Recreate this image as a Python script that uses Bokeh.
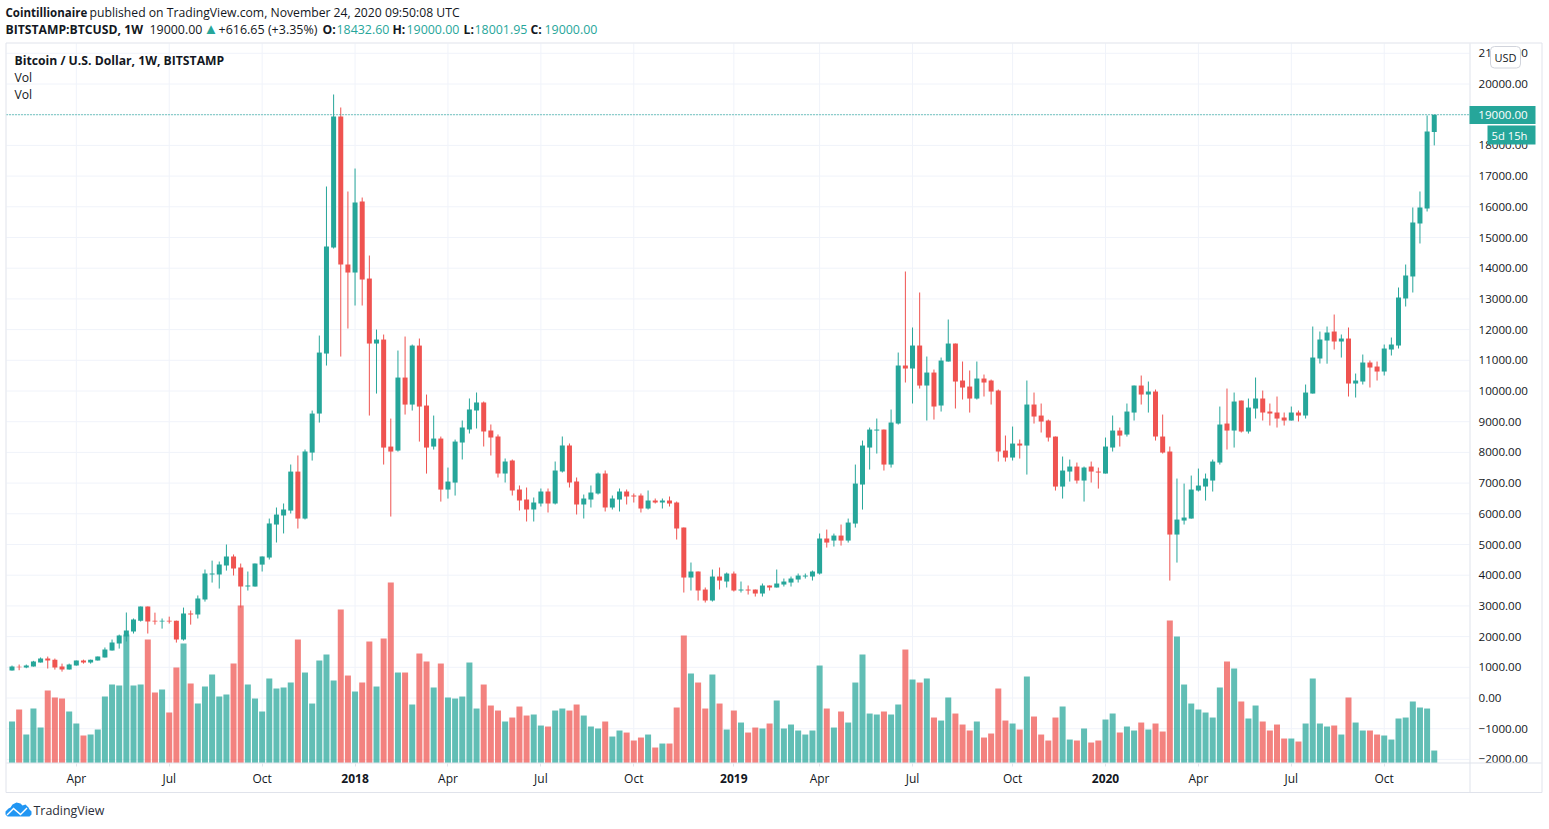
from bokeh.plotting import figure
from bokeh.models import (Range1d, FixedTicker, Label, BoxAnnotation, PolyAnnotation,
                          ColumnDataSource)
from bokeh.embed import file_html
from bokeh.resources import INLINE

opens = [894,1020,990,1024,1155,1285,1250,1025,925,1055,
1220,1155,1220,1320,1545,1775,2000,2165,2520,2980,
2520,2490,2520,2520,1905,2750,2720,3205,4020,4020,
4315,4610,4250,3630,3630,4345,4575,5650,5945,6105,
7375,5845,7994,9265,11220,14673,18941,14120,13859,16172,
13663,11546,11676,8190,8060,10438,9558,11480,9526,8190,
8451,6789,7017,8322,8746,9365,9626,8713,8518,7312,
7736,6791,6465,6140,6335,6726,6335,7378,8225,7052,
6303,6465,6661,7312,6205,6465,6726,6596,6596,6172,
6433,6368,6433,6368,5553,3924,4120,3533,3175,3957,
3794,4054,3501,3533,3533,3403,3664,3599,3696,3761,
3859,3957,3957,4054,5195,5128,5291,5128,5682,6953,
8158,8712,8744,7604,8940,10830,10732,11481,10178,10601,
9527,10960,11546,10341,10145,9754,10406,10341,10015,8060,
7832,8288,8223,9559,9200,9038,8516,6887,7376,7539,
7083,7539,7376,7311,8158,8712,8581,9298,10178,9885,
9983,8517,8028,5324,5780,5845,6758,6888,7083,7670,
8940,8712,9689,8680,9429,9755,9331,9299,9136,9038,
9299,9201,9917,11058,11644,11937,11612,11709,10243,10308,
10928,10797,10634,11351,11481,13013,13730,15456,15945,18432.6]
closes = [1024,1005,1055,1187,1285,1220,990,925,1090,1220,
1155,1250,1350,1580,1805,2035,2200,2555,2980,2490,
2490,2520,2490,1905,2750,2720,3240,4055,4055,4345,
4610,4220,3630,3665,4380,4610,5685,5975,6140,7375,
5845,8030,9265,11252,14706,18941,14120,13859,16140,13631,
11546,11676,8157,8027,10438,9558,11480,9493,8157,8451,
6789,7050,8353,8811,9398,9626,8681,8485,7312,7703,
6759,6433,6140,6368,6726,6335,7410,8225,7019,6303,
6498,6693,7312,6205,6498,6726,6563,6563,6172,6433,
6368,6433,6335,5521,3924,4120,3501,3175,3957,3826,
4054,3501,3533,3501,3403,3664,3599,3729,3794,3892,
3989,3989,4120,5195,5063,5291,5128,5715,6985,8223,
8744,8744,7604,8973,10830,10732,11481,10178,10601,9494,
10992,11546,10308,10113,9754,10406,10276,9982,8028,7832,
8288,8223,9559,9168,9005,8484,6887,7409,7539,7083,
7507,7376,7344,8191,8712,8549,9331,10178,9885,9983,
8517,7995,5324,5812,5878,6790,6920,7148,7702,8908,
8712,9657,8680,9461,9755,9299,9266,9103,9038,9299,
9201,9950,11090,11677,11905,11612,11709,10243,10341,10928,
10765,10634,11384,11514,13045,13762,15489,15978,18453,19000]
highs = [1057,1090,1090,1210,1320,1350,1285,1120,1120,1220,
1250,1250,1350,1645,1905,2065,2785,2590,2980,2980,
2780,2590,2650,2520,2945,2850,3340,4185,4475,4445,
5000,4675,4380,4120,4380,4610,5845,6205,6335,7605,
7900,8095,9363,11806,16661,19658,19235,16498,17247,16302,
14413,12002,11839,9102,11318,11774,11513,11709,9884,9200,
8516,7506,8418,9039,9756,9951,9658,8909,8583,7801,
7769,6922,6856,6531,6824,6824,7703,8518,8290,7182,
6628,6922,7345,7410,6596,6824,6791,6661,6661,6759,
6498,6498,6563,6400,5553,4413,4120,3599,4185,4250,
4087,4120,3794,3664,3533,3729,3664,4185,3892,3957,
4054,4054,4152,5358,5487,5356,5650,5845,7604,8386,
8810,9103,8744,9396,11253,13892,12068,13208,11123,10699,
11090,12328,11546,10960,10667,10960,10536,10373,10048,8549,
8842,8419,10341,9950,9592,9070,8516,7865,7767,7669,
7539,7702,7506,8484,9201,8810,9592,10178,10504,10308,
10048,9233,8191,7148,6985,7246,7474,7311,7767,9494,
10080,9950,9689,9755,10439,10015,9592,9820,9299,9494,
9364,10211,12100,11937,12100,12491,11840,12068,10569,11188,
10993,10960,11514,11742,13371,14120,15978,16499,18974,19000]
lows = [894,905,970,1024,1155,960,925,860,925,1055,
1120,1120,1220,1320,1545,1610,1840,2100,2490,2100,
2390,2260,2425,1805,1870,2390,2590,3140,3760,3565,
4150,3990,2945,3500,3630,4120,4510,5065,5360,6010,
5520,5815,7734,8972,10829,14641,11122,12035,12784,12784,
9200,9917,7604,5910,8027,9233,9363,8353,7310,8092,
6398,6496,6594,7769,8616,8779,8192,7899,7182,7019,
6596,6107,5749,5749,6237,6042,6303,7345,6856,5977,
5846,6205,6628,6075,6140,6075,6303,6368,6042,6140,
6335,6172,6237,5162,3435,3501,3175,3110,3142,3533,
3599,3468,3436,3370,3305,3305,3501,3599,3631,3631,
3761,3892,3826,4022,4900,4933,4965,5063,5552,6138,
7441,7963,7409,7506,8907,10276,9592,10080,9038,9070,
9331,10960,9429,9722,9298,9722,9820,9559,7702,7702,
7735,7800,7278,8940,8647,8354,6757,6496,7050,6985,
6399,7018,6822,7311,8028,8191,8516,9038,9559,9298,
8386,7963,3825,4411,5650,5845,6725,6432,6725,7604,
8093,8158,8647,8614,9103,9038,8875,8810,8875,9038,
9005,9103,9917,10895,10890,11351,11090,9820,9787,10211,
10113,10341,10504,11156,11384,12752,13208,14805,15847,18000]
volumes = [-766,-375,-1190,-343,-962,244,16,-17,-440,-831,
-1222,-1190,-1027,48,439,407,2068,407,439,1905,
179,276,-473,993,1775,472,-180,374,765,48,
113,1123,3013,439,-17,-440,635,309,342,505,
1905,830,-180,1221,1417,570,2883,732,211,505,
1840,374,1938,3762,830,830,-212,1449,1189,342,
1123,16,-17,48,1156,-343,439,-245,-408,-766,
-636,-278,-571,-538,-897,-929,-408,-343,-408,-212,
-571,-929,-994,-766,-1255,-1059,-1125,-1385,-1288,-1190,
-1613,-1483,-1483,-310,2036,798,504,-343,765,-180,
-1027,-408,-799,-1125,-962,-994,-831,-82,-994,-864,
-1059,-1190,-1059,1058,-343,-962,-440,-799,504,1417,
-506,-538,-440,-538,-212,1579,602,504,635,-636,
-734,16,-506,-864,-1059,-766,-1288,-1157,309,-734,
-831,-1027,700,-603,-1190,-1385,-636,-277,-1353,-1385,
-994,-1450,-1385,-701,-505,-1124,-929,-1059,-799,-1027,
-831,-1092,2525,2003,439,-180,-375,-473,-636,342,
1189,961,-114,-668,-245,-766,-1059,-864,-1320,-1320,
-1418,-831,635,-831,-929,-896,-1190,16,-799,-1059,
-1059,-1190,-1222,-1353,-668,-636,-114,-310,-343,-1711]
assert all(len(a) == 200 for a in (opens, closes, highs, lows, volumes))

month_ticks = {9: "Apr", 22: "Jul", 35: "Oct", 61: "Apr", 74: "Jul", 87: "Oct",
               113: "Apr", 126: "Jul", 140: "Oct", 166: "Apr", 179: "Jul", 192: "Oct"}
year_ticks = {48: "2018", 101: "2019", 153: "2020"}
price_ticks = list(range(-2000, 22000, 1000))
last_price = 19000

UP, DOWN = "#26a69a", "#ef5350"
GRID, BORDER = "#f0f3fa", "#e0e3eb"
FONT = "Open Sans"
TXT = "#131722"

W, H = 1545, 825
L, R, T, B = 7, 1470, 44, 763.5          # plot area on the canvas, px
BAR = 7.147; X0 = 12.5                    # spacing and first bar centre, px
PY = 0.0307; Y0 = 698.5                   # px per price unit and zero line, px
xd = lambda px: (px - X0) / BAR
yd = lambda py: (Y0 - py) / PY

# the frame fills the canvas so that annotations outside the plot area are not clipped
p = figure(width=W, height=H, output_backend="svg", toolbar_location=None,
           x_range=Range1d(xd(1), xd(W + 1)), y_range=Range1d(yd(H + 1), yd(1)),
           y_axis_location="right", min_border=0)
p.outline_line_color = None
p.background_fill_color = "white"
p.grid.visible = False

all_x = sorted(list(month_ticks) + list(year_ticks))
p.xaxis.fixed_location = yd(B)
p.xaxis.ticker = FixedTicker(ticks=all_x)
p.xaxis.major_label_overrides = {**month_ticks, **{k: " " for k in year_ticks}}
p.xaxis.axis_line_color = None
p.xaxis.major_tick_line_color = BORDER
p.xaxis.major_tick_out = 3
p.xaxis.major_tick_in = 0
p.xaxis.minor_tick_line_color = None
p.xaxis.major_label_text_font = FONT
p.xaxis.major_label_text_font_size = "12px"
p.xaxis.major_label_text_color = TXT
p.xaxis.major_label_standoff = 4

p.yaxis.fixed_location = xd(R)
p.yaxis.ticker = FixedTicker(ticks=price_ticks)
p.yaxis.major_label_overrides = {v: f"{v:.2f}".replace("-", "\u2212") for v in price_ticks}
p.yaxis.axis_line_color = None
p.yaxis.major_tick_line_color = None
p.yaxis.minor_tick_line_color = None
p.yaxis.major_label_text_font = FONT
p.yaxis.major_label_text_font_size = "11.6px"
p.yaxis.major_label_text_color = TXT
p.yaxis.major_label_standoff = 3

# grid lines limited to the plot area
p.segment(all_x, yd(B), all_x, yd(T), line_color=GRID, line_width=1, level="underlay")
p.segment(xd(L), price_ticks, xd(R), price_ticks, line_color=GRID, line_width=1, level="underlay")

idx = list(range(200))
cols = [UP if c >= o else DOWN for o, c in zip(opens, closes)]
src = ColumnDataSource(dict(x=idx, o=opens, c=closes, h=highs, l=lows, v=volumes,
                            col=cols, base=[yd(B)] * 200))
p.vbar("x", 0.84, "v", "base", source=src, fill_color="col", line_color=None, fill_alpha=0.73)
p.segment("x", "h", "x", "l", source=src, line_color="col", line_width=1)
p.vbar("x", 0.7, "o", "c", source=src, fill_color="col", line_color=None)

p.segment(xd(L), last_price, xd(R), last_price, line_color=UP, line_width=1.3, line_dash="1 2")


def text(px, py, s, bold=False, color=TXT, size="12.2px", align="left"):
    p.add_layout(Label(x=xd(px), y=yd(py), text=s, text_font=FONT, text_font_size=size,
                       text_font_style="bold" if bold else "normal", text_color=color,
                       text_align=align, text_baseline="middle"))


def box(l, r, t, b, fill=None, line=None, radius=0):
    p.add_layout(BoxAnnotation(left=xd(l), right=xd(r), top=yd(t), bottom=yd(b),
                               fill_color=fill, fill_alpha=1 if fill else 0,
                               line_color=line, line_alpha=1 if line else 0, line_width=1,
                               border_radius=radius, level="annotation"))


# clip the lowest axis label, then draw the frame and the axis borders
box(R + 0.5, 1542.5, B + 0.5, 792.5, fill="white")
box(6.5, 1542.5, 43.5, 793, line=BORDER)
box(R, R + 1, 44, 793, fill=BORDER)
box(7, 1542, B - 0.5, B + 0.5, fill=BORDER)

# last price tags
box(R, 1536, 106.5, 124.5, fill=UP)
text(1503.5, 115.5, "19000.00", color="white", size="11.6px", align="center")
box(1488, 1536, 126, 145, fill=UP)
text(1510, 135.5, "5d 15h", color="white", size="11.2px", align="center")
# currency button
box(1491, 1521, 47, 68.5, fill="white", line="#d1d4dc", radius=4)
text(1506, 58, "USD", size="11px", align="center")

# year ticks
for k, s in year_ticks.items():
    text(X0 + BAR * k, 778.5, s, bold=True, size="12px", align="center")

# headers
text(6, 13, "Cointillionaire", bold=True, size="11.5px")
text(90, 13, "published on TradingView.com, November 24, 2020 09:50:08 UTC")
text(6, 29.5, "BITSTAMP:BTCUSD, 1W", bold=True)
text(150, 29.5, "19000.00", size="12.4px")
text(204, 28.5, "\u25b2", color=UP, size="15px")
text(219, 29.5, "+616.65 (+3.35%)", size="12.5px")
for px_l, lab, px_v, val in [(323, "O:", 337, "18432.60"), (393, "H:", 407, "19000.00"),
                             (464, "L:", 475, "18001.95"), (531, "C:", 545, "19000.00")]:
    text(px_l, 29.5, lab, bold=True)
    text(px_v, 29.5, val, color=UP, size="12.4px")
text(15, 60.5, "Bitcoin / U.S. Dollar, 1W, BITSTAMP", bold=True)
text(15, 77.5, "Vol")
text(15, 94.5, "Vol")

# TradingView logo
cloud = [(6, 815), (6, 812), (9, 809), (11, 808), (13, 805), (17, 803), (21, 804), (23, 806),
         (26, 805), (29, 808), (30, 810), (32, 812), (32, 815), (30, 817), (8, 817)]
zig = [(7, 815), (14, 808), (21, 814), (27, 808), (28, 809), (21, 816), (14, 810), (8, 816)]
p.add_layout(PolyAnnotation(xs=[xd(a) for a, _ in cloud], ys=[yd(b) for _, b in cloud],
                            fill_color="#2196f3", fill_alpha=1, line_color=None))
p.add_layout(PolyAnnotation(xs=[xd(a) for a, _ in zig], ys=[yd(b) for _, b in zig],
                            fill_color="white", fill_alpha=1, line_color=None))
text(34, 811, "TradingView", size="12.4px", color="#2a2e39")

open("out.html", "w").write(file_html(p, INLINE))
